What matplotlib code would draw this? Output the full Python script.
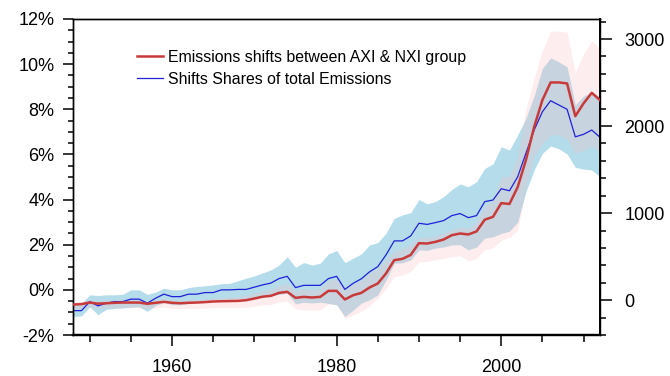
import numpy as np
import matplotlib
matplotlib.use("Agg")
import matplotlib.pyplot as plt
from matplotlib.ticker import MultipleLocator, FuncFormatter

plt.rcParams["font.family"] = ["Liberation Sans", "DejaVu Sans"]

years = np.arange(1948, 2013)

# share of total emissions shifted (%), left axis
share = [
    -0.92, -0.92, -0.52, -0.71, -0.59, -0.52, -0.52, -0.41, -0.41, -0.59,
    -0.37, -0.19, -0.30, -0.30, -0.19, -0.19, -0.12, -0.12, 0.00, 0.00,
    0.02, 0.02, 0.12, 0.22, 0.30, 0.50, 0.60, 0.10, 0.20, 0.20,
    0.20, 0.50, 0.60, 0.02, 0.29, 0.49, 0.80, 1.03, 1.55, 2.17,
    2.17, 2.39, 2.95, 2.90, 2.98, 3.07, 3.29, 3.38, 3.20, 3.29,
    3.91, 3.98, 4.48, 4.39, 5.01, 6.05, 7.08, 7.89, 8.38, 8.19,
    8.00, 6.78, 6.89, 7.08, 6.76,
]
share_hi = [
    -0.60, -0.60, -0.22, -0.25, -0.22, -0.22, -0.20, 0.00, 0.00, -0.20,
    -0.10, 0.07, 0.00, 0.00, 0.10, 0.15, 0.18, 0.22, 0.27, 0.29,
    0.40, 0.52, 0.62, 0.75, 0.88, 1.10, 1.47, 1.00, 1.21, 1.10,
    1.18, 1.59, 1.74, 1.21, 1.40, 1.59, 1.99, 2.09, 2.51, 3.17,
    3.32, 3.42, 4.00, 3.81, 3.91, 4.13, 4.45, 4.69, 4.57, 4.79,
    5.38, 5.58, 6.34, 6.19, 6.86, 7.60, 8.60, 9.81, 10.28, 10.10,
    9.88, 8.19, 8.58, 8.77, 8.55,
]
share_lo = [
    -1.18, -1.15, -0.75, -1.10, -0.86, -0.82, -0.80, -0.77, -0.75, -0.95,
    -0.70, -0.55, -0.66, -0.66, -0.60, -0.55, -0.50, -0.45, -0.42, -0.42,
    -0.40, -0.40, -0.35, -0.30, -0.25, -0.20, -0.15, -0.62, -0.55, -0.58,
    -0.55, -0.60, -0.66, -1.18, -0.90, -0.59, -0.44, -0.22, 0.44, 1.18,
    1.20, 1.33, 1.77, 1.75, 1.85, 1.90, 1.99, 2.00, 1.77, 1.90,
    2.29, 2.35, 2.50, 2.60, 3.00, 4.35, 5.31, 6.05, 6.37, 6.25,
    6.02, 5.43, 5.35, 5.31, 5.01,
]

# emissions shifted between AXI and NXI groups, right axis
shift = [
    -50, -45, -27, -40, -35, -30, -27, -27, -27, -42,
    -30, -19, -30, -35, -30, -27, -22, -15, -12, -10,
    -8, 0, 19, 40, 50, 84, 96, 27, 38, 31,
    38, 107, 107, 8, 57, 84, 146, 192, 307, 460,
    475, 520, 655, 651, 670, 697, 747, 766, 755, 790,
    925, 957, 1115, 1105, 1300, 1609, 1991, 2298, 2501, 2501,
    2490, 2114, 2260, 2382, 2298,
]
shift_hi = [
    -20, -15, 5, -10, -5, 0, 5, 5, 5, -10,
    5, 15, 5, 0, 5, 10, 15, 25, 30, 35,
    40, 55, 80, 105, 125, 170, 190, 110, 125, 120,
    135, 230, 240, 130, 190, 230, 310, 370, 470, 560,
    600, 640, 720, 720, 740, 770, 810, 840, 830, 900,
    1080, 1150, 1420, 1420, 1650, 2200, 2550, 2870, 3090, 3090,
    3080, 2610, 2830, 2980, 2890,
]
shift_lo = [
    -110, -100, -80, -95, -90, -85, -85, -85, -85, -100,
    -90, -80, -95, -100, -95, -95, -90, -85, -85, -85,
    -85, -80, -70, -55, -50, -20, -10, -100, -110, -115,
    -115, -40, -50, -210, -170, -130, -60, 20, 130, 270,
    290, 330, 440, 445, 465, 480, 500, 510, 450, 480,
    580, 600, 690, 720, 800, 1300, 1650, 1800, 1900, 1900,
    1850, 1690, 1720, 1770, 1700,
]

fig = plt.figure(figsize=(6.7, 3.76), dpi=100)
ax = fig.add_axes([0.1094, 0.109, 0.7861, 0.8405])
ax2 = ax.twinx()

ax.fill_between(years, share_lo, share_hi, color="#b4dcea", lw=0)
ax2.fill_between(years, shift_lo, shift_hi, color="#fbbfc4", alpha=0.28, lw=0)

# blue line goes on the front axes but keeps the left-axis scale
l_blue, = ax2.plot(years, share, color="#2020d8", lw=0.9, zorder=2.5,
                   transform=ax.transData,
                   label="Shifts Shares of total Emissions")
l_red, = ax2.plot(years, shift, color="#c83a3a", lw=1.8, zorder=3,
                  label="Emissions shifts between AXI & NXI group")

ax.set_xlim(1948, 2012)
ax.set_ylim(-2, 12)
ax2.set_ylim(-400, 3230)

ax.xaxis.set_major_locator(MultipleLocator(20))
ax.xaxis.set_minor_locator(MultipleLocator(5))
ax.yaxis.set_major_locator(MultipleLocator(2))
ax.yaxis.set_minor_locator(MultipleLocator(0.5))
ax.yaxis.set_major_formatter(FuncFormatter(lambda v, p: f"{v:.0f}%"))
ax2.yaxis.set_major_locator(MultipleLocator(1000))
ax2.yaxis.set_minor_locator(MultipleLocator(200))

ax.tick_params(axis="both", which="both", direction="out", labelsize=13,
               width=1.1, color="black")
ax.tick_params(axis="y", which="major", length=7.5, pad=6)
ax.tick_params(axis="y", which="minor", length=3.6)
ax.tick_params(axis="x", which="major", length=8, pad=9)
ax.tick_params(axis="x", which="minor", length=5)
ax.tick_params(top=False, which="both")
ax2.tick_params(axis="y", which="both", direction="out", labelsize=13, width=1.1)
ax2.tick_params(axis="y", which="major", length=8.5, pad=9)
ax2.tick_params(axis="y", which="minor", length=4.2)

for a in (ax, ax2):
    for side in ("left", "top", "right"):
        a.spines[side].set_linewidth(1.0)
    a.spines["bottom"].set_linewidth(1.6)
ax2.spines["right"].set_linewidth(1.4)

ax2.legend(handles=[l_red, l_blue], loc="upper left",
           bbox_to_anchor=(0.115, 0.912), frameon=False, fontsize=11.4,
           handlelength=1.65, handletextpad=0.3, labelspacing=0.42,
           borderpad=0.2, borderaxespad=0)

fig.savefig("out.png", dpi=100)
